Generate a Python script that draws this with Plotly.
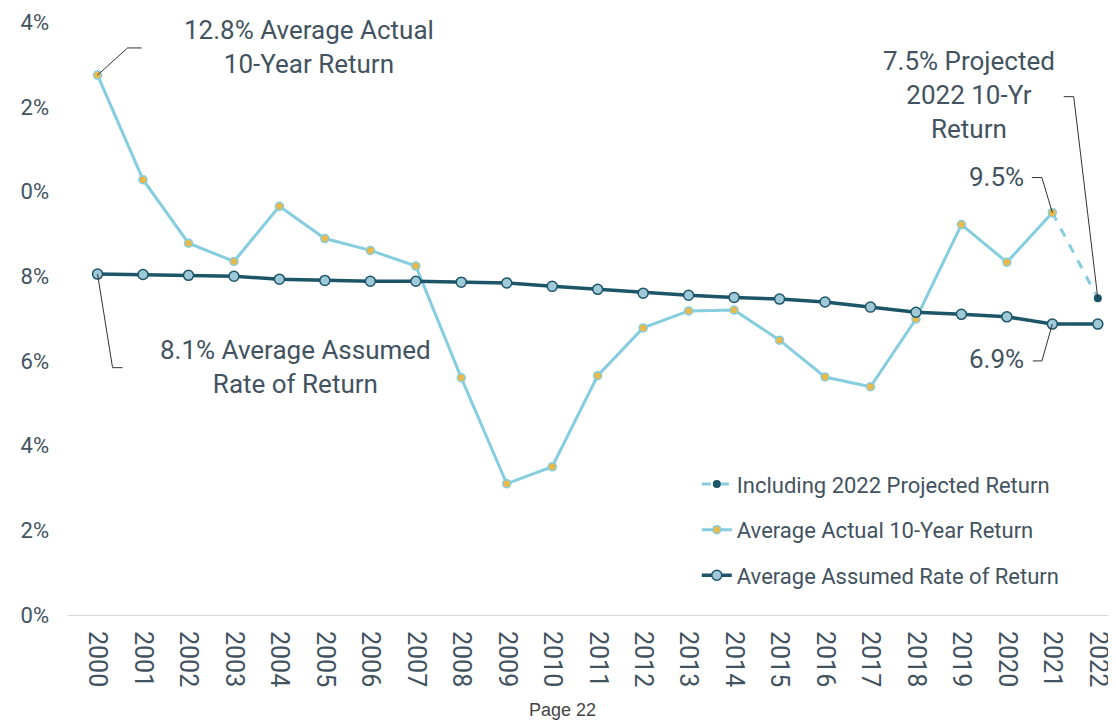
import plotly.graph_objects as go

years = list(range(2000, 2023))
actual_years = list(range(2000, 2022))
actual_return = [12.75, 10.28, 8.78, 8.35, 9.65, 8.89, 8.61, 8.24, 5.60, 3.10, 3.50,
                 5.65, 6.78, 7.18, 7.20, 6.49, 5.62, 5.39, 6.99, 9.22, 8.33, 9.50]
assumed_return = [8.05, 8.04, 8.02, 8.00, 7.93, 7.90, 7.88, 7.88, 7.86, 7.84, 7.76, 7.69,
                  7.60, 7.55, 7.50, 7.46, 7.39, 7.27, 7.15, 7.10, 7.04, 6.87, 6.87]
projected_years = [2021, 2022]
projected_return = [9.50, 7.48]

y_ticks = [0, 2, 4, 6, 8, 10, 12, 14]
y_tick_text = ["0%", "2%", "4%", "6%", "8%", "0%", "2%", "4%"]

TEXT = "#42535f"
LIGHT = "#86cde0"
GOLD = "#e9b949"
DARK = "#1c5568"
FONT = "Roboto"

fig = go.Figure()

# dashed projection segment; its 2021 dot sits under the gold marker
fig.add_trace(go.Scatter(
    x=projected_years, y=projected_return,
    name="Including 2022 Projected Return",
    mode="lines+markers",
    line=dict(color=LIGHT, width=3, dash="dash"),
    marker=dict(color=DARK, size=8),
    legendgroup="a",
))

fig.add_trace(go.Scatter(
    x=actual_years, y=actual_return,
    name="Average Actual 10-Year Return",
    mode="lines+markers",
    line=dict(color=LIGHT, width=3),
    marker=dict(color=GOLD, size=8, line=dict(color=LIGHT, width=1.5)),
    legendgroup="b",
))

fig.add_trace(go.Scatter(
    x=years, y=assumed_return,
    name="Average Assumed Rate of Return",
    mode="lines+markers",
    line=dict(color=DARK, width=3.5),
    marker=dict(color="#9fc9d8", size=10, line=dict(color=DARK, width=1.5)),
    legendgroup="c",
))

# leader lines for the callouts
def leader(points):
    path = "M " + " L ".join(f"{x},{y}" for x, y in points)
    return dict(type="path", path=path, xref="x", yref="y",
                line=dict(color="#333333", width=1))

shapes = [
    leader([(2000, actual_return[0]), (2000.66, 13.39), (2000.97, 13.39)]),
    leader([(2000, assumed_return[0]), (2000.33, 5.84), (2000.55, 5.84)]),
    leader([(2020.55, 10.33), (2020.77, 10.33), (2021, actual_return[-1])]),
    leader([(2021.25, 12.24), (2021.47, 12.24), (2022, projected_return[-1])]),
    leader([(2020.57, 6.0), (2020.77, 6.0), (2021, assumed_return[-2])]),
]

note_font = dict(family=FONT, size=26, color=TEXT)
annotations = [
    dict(x=2004.64, y=13.41, text="12.8% Average Actual<br>10-Year Return",
         showarrow=False, font=note_font, xanchor="center"),
    dict(x=2004.35, y=5.86, text="8.1% Average Assumed<br>Rate of Return",
         showarrow=False, font=note_font, xanchor="center"),
    dict(x=2019.16, y=12.28, text="7.5% Projected<br>2022 10-Yr<br>Return",
         showarrow=False, font=note_font, xanchor="center"),
    dict(x=2020.42, y=10.35, text="9.5%", showarrow=False, font=note_font,
         xanchor="right"),
    dict(x=2020.42, y=6.05, text="6.9%", showarrow=False, font=note_font,
         xanchor="right"),
    dict(x=0.472, y=-0.16, xref="paper", yref="paper", text="Page 22",
         showarrow=False, yanchor="middle",
         font=dict(family="Liberation Sans", size=18, color="#444444")),
]

# page body has an 8px margin, so the figure is 8px smaller each way
fig.update_layout(
    width=1108, height=714,
    margin=dict(l=60, r=0, t=12, b=107, autoexpand=False),
    plot_bgcolor="white", paper_bgcolor="white",
    font=dict(family=FONT, color=TEXT),
    xaxis=dict(range=[1999.35, 2022.4], tickvals=years, tickangle=90,
               tickfont=dict(size=25, color=TEXT), showgrid=False, zeroline=False,
               showline=True, linecolor="#d9d9d9", linewidth=1, ticks="",
               ticklabelstandoff=10, automargin=False),
    yaxis=dict(range=[0, 14.05], tickvals=y_ticks, ticktext=y_tick_text,
               tickfont=dict(size=22, color=TEXT), showgrid=False, zeroline=False,
               ticks="", ticklabelstandoff=18, automargin=False),
    legend=dict(x=0.6, y=0.255, xanchor="left", yanchor="top",
                font=dict(size=22, color=TEXT), tracegroupgap=14,
                bgcolor="rgba(0,0,0,0)"),
    shapes=shapes,
    annotations=annotations,
)

fig.write_html("out.html")
